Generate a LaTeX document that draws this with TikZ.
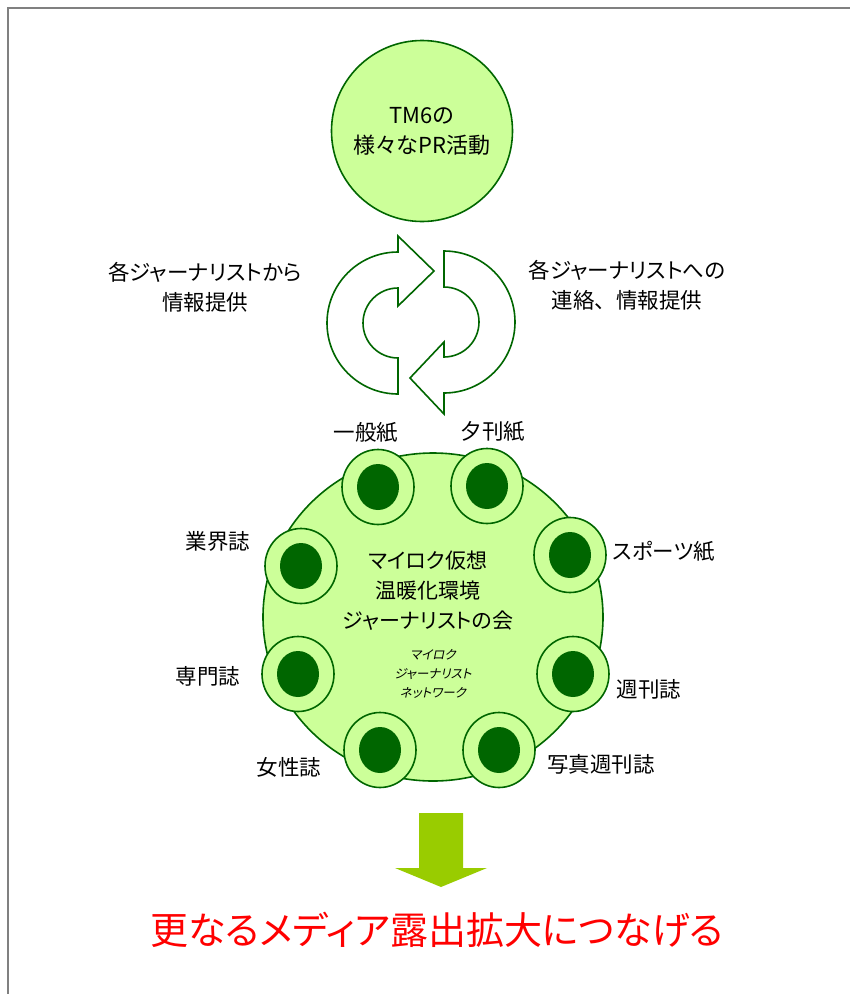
\documentclass[tikz,border=0pt]{standalone}
\usepackage{fontspec}
\setmainfont{Noto Sans CJK JP}[RawFeature=+palt]
\newfontfamily\jpfw{Noto Sans CJK JP}
\newfontfamily\jpit{Noto Sans CJK JP}[FakeSlant=0.2,RawFeature=+palt]
\usetikzlibrary{shapes.geometric}
\definecolor{dg}{HTML}{006600}
\definecolor{lg}{HTML}{CCFF99}
\definecolor{ag}{HTML}{99CC00}
\tikzset{
  outerc/.style={ellipse, draw=dg, fill=lg, line width=1.6pt, minimum width=72pt, minimum height=75pt, inner sep=0pt},
  innerc/.style={ellipse, fill=dg, minimum width=42pt, minimum height=46pt, inner sep=0pt},
  lab/.style={font=\fontsize{21.5}{30}\selectfont, inner sep=0pt, align=center},
  cyc/.style={draw=dg, fill=white, line width=1.6pt, line join=miter},
}
\begin{document}
\begin{tikzpicture}[x=1pt,y=1pt]
\useasboundingbox (0,0) rectangle (850,-994);
\fill[white] (0,0) rectangle (850,-994);
\draw[gray, line width=2pt] (8,-994) -- (8,-8) -- (850,-8);

% top circle
\node[circle, draw=dg, fill=lg, line width=1.6pt, minimum size=181pt, inner sep=0pt,
      font=\fontsize{22}{30}\selectfont, align=center] (top) at (422,-131) {TM6の\\様々なPR活動};

% cycle arrows
\draw[cyc] (398,-252) arc[start angle=90, end angle=270, radius=71]
  -- (398,-358) arc[start angle=270, end angle=90, radius=35]
  -- (398,-306) -- (434,-271) -- (398,-236) -- cycle;
\draw[cyc] (444,-251) arc[start angle=90, end angle=-90, radius=71]
  -- (444,-414) -- (410,-378) -- (444,-342) -- (444,-357)
  arc[start angle=-90, end angle=90, radius=35] -- cycle;

\node[lab] (lfrom) at (205,-287) {各ジャーナリストから\\情報提供};
\node[lab] (rto) at (627,-285) {各ジャーナリストへの\\連絡{\jpfw 、}情報提供};

% main circle
\node[ellipse, draw=dg, fill=lg, line width=1.6pt, minimum width=340pt, minimum height=328pt, inner sep=0pt] (main) at (433,-617) {};
\node[font=\fontsize{21}{30}\selectfont, align=center, inner sep=0pt] (mtxt) at (428,-591) {マイロク仮想\\温暖化環境\\ジャーナリストの会};
\node[font=\jpit\fontsize{12.5}{19}\selectfont, align=center, inner sep=0pt] (mnet) at (433,-674) {マイロク\\ジャーナリスト\\ネットワーク};

% media circles
\foreach \n/\x/\y in {c1/378/487, c2/487/486, c3/570/555, c4/573/674, c5/499/750, c6/380/750, c7/298/674, c8/301/566}{
  \node[outerc] (\n) at (\x,-\y) {};
  \node[innerc] (\n i) at (\n) {};
}

\node[lab] (l1) at (366,-433) {一般紙};
\node[lab] (l2) at (493,-432) {夕刊紙};
\node[lab] (l3) at (664,-551) {スポーツ紙};
\node[lab] (l4) at (649,-689) {週刊誌};
\node[lab] (l5) at (601,-764) {写真週刊誌};
\node[lab] (l6) at (289,-767) {女性誌};
\node[lab] (l7) at (208,-676) {専門誌};
\node[lab] (l8) at (218,-541) {業界誌};

% down arrow
\fill[ag] (419,-813) -- (463,-813) -- (463,-868) -- (487,-868) -- (441,-887) -- (395,-868) -- (419,-868) -- cycle;

\node[font=\fontsize{38}{44}\selectfont, text=red, inner sep=0pt] (res) at (437,-930) {更なるメディア露出拡大につなげる};
\end{tikzpicture}
\end{document}
